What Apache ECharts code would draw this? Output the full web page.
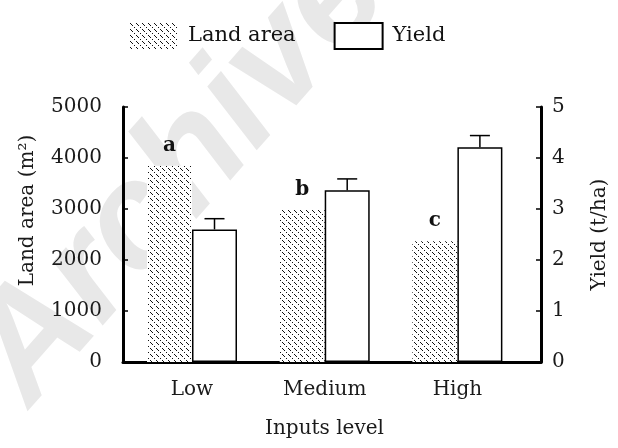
<!DOCTYPE html>
<html>
<head>
<meta charset="utf-8">
<script src="https://cdn.jsdelivr.net/npm/echarts@6/dist/echarts.min.js"></script>
<style>html,body{margin:0;padding:0;background:#fff;}#c{width:618px;height:448px;}</style>
</head>
<body>
<div id="c"></div>
<script>
var categories = ['Low', 'Medium', 'High'];
var landArea = [3850, 2980, 2370];
var yieldVals = [2.60, 3.37, 4.21];
var yieldErr = [0.21, 0.22, 0.23];
var letters = ['a', 'b', 'c'];
var leftTicks = [0, 1000, 2000, 3000, 4000, 5000];
var rightTicks = [0, 1, 2, 3, 4, 5];

var FONT = 'DejaVu Serif';
var BAR_W = 45;

function hatch() {
  var c = document.createElement('canvas');
  c.width = 6; c.height = 6;
  var g = c.getContext('2d');
  g.fillStyle = '#fff'; g.fillRect(0, 0, 6, 6);
  g.fillStyle = '#111';
  [0, 1, 2, 4].forEach(function (i) { g.fillRect(i, i, 1, 1); });
  return c;
}
var pattern = { image: hatch(), repeat: 'repeat' };

var chart = echarts.init(document.getElementById('c'), null, { renderer: 'canvas' });
var txt = { fontFamily: FONT, fontSize: 20, color: '#1a1a1a' };

chart.setOption({
  animation: false,
  backgroundColor: '#fff',
  graphic: [{
    type: 'text', z: -10, silent: true,
    x: 180, y: 175, rotation: 0.85,
    style: { text: 'Archive', font: 'italic bold 150px "Liberation Sans"', fill: '#e8e8e8', align: 'center', verticalAlign: 'middle' }
  }],
  legend: {
    left: 125, top: 17, itemWidth: 48, itemHeight: 26, itemGap: 38, icon: 'rect',
    textStyle: { fontFamily: FONT, fontSize: 21, color: '#111', padding: [0, 0, 0, 5] },
    data: ['Land area', 'Yield']
  },
  grid: { left: 123, right: 72, top: 107, bottom: 86 },
  xAxis: {
    type: 'value', min: -0.52, max: 2.63,
    name: 'Inputs level', nameLocation: 'middle', nameGap: 57,
    nameTextStyle: { fontFamily: FONT, fontSize: 20, color: '#1a1a1a', padding: [0, 15, 0, 0] },
    axisLine: { onZero: false, lineStyle: { color: '#000', width: 3 } },
    axisTick: { show: false },
    splitLine: { show: false },
    axisLabel: Object.assign({ customValues: [0, 1, 2], margin: 18, formatter: function (v) { return categories[Math.round(v)]; } }, txt)
  },
  yAxis: [{
    type: 'value', min: 0, max: 5000, interval: 1000, position: 'left',
    name: 'Land area (m²)', nameLocation: 'middle', nameGap: 85, nameRotate: 90,
    nameTextStyle: { fontFamily: FONT, fontSize: 20, color: '#1a1a1a', padding: [0, 0, 0, 48] },
    axisLine: { show: true, onZero: false, lineStyle: { color: '#000', width: 3 } },
    axisTick: { show: true, inside: true, length: 5, lineStyle: { color: '#000', width: 1.5 } },
    splitLine: { show: false },
    axisLabel: Object.assign({ margin: 21, formatter: function (v) { return String(v); } }, txt)
  }, {
    type: 'value', min: 0, max: 5, interval: 1, position: 'right',
    name: 'Yield (t/ha)', nameLocation: 'middle', nameGap: 49, nameRotate: 90,
    nameTextStyle: { fontFamily: FONT, fontSize: 20, color: '#1a1a1a', verticalAlign: 'top' },
    axisLine: { show: true, onZero: false, lineStyle: { color: '#000', width: 3 } },
    axisTick: { show: true, inside: true, length: 5, lineStyle: { color: '#000', width: 1.5 } },
    splitLine: { show: false },
    axisLabel: Object.assign({ margin: 11, formatter: function (v) { return String(v); } }, txt)
  }],
  series: [{
    name: 'Land area', type: 'bar', yAxisIndex: 0, barWidth: BAR_W, barGap: '0%',
    itemStyle: { color: pattern, borderWidth: 0 },
    label: {
      show: true, position: 'top', distance: 10,
      formatter: function (p) { return letters[p.dataIndex]; },
      fontFamily: FONT, fontSize: 20, fontWeight: 'bold', color: '#111'
    },
    data: landArea.map(function (v, i) { return [i, v]; })
  }, {
    name: 'Yield', type: 'bar', yAxisIndex: 1, barWidth: BAR_W, barGap: '0%',
    itemStyle: { color: '#fff', borderColor: '#000', borderWidth: 1.5 },
    data: yieldVals.map(function (v, i) { return [i, v]; })
  }, {
    name: 'err', type: 'custom', yAxisIndex: 1, z: 5,
    data: yieldVals.map(function (v, i) { return [i, v, v + yieldErr[i]]; }),
    renderItem: function (params, api) {
      var lo = api.coord([api.value(0), api.value(1)]);
      var hi = api.coord([api.value(0), api.value(2)]);
      var x = lo[0] + BAR_W / 2;
      var cap = 10;
      var st = { stroke: '#000', lineWidth: 1.5 };
      return {
        type: 'group', children: [
          { type: 'line', shape: { x1: x, y1: lo[1], x2: x, y2: hi[1] }, style: st },
          { type: 'line', shape: { x1: x - cap, y1: hi[1], x2: x + cap, y2: hi[1] }, style: st }
        ]
      };
    }
  }]
});
</script>
</body>
</html>
